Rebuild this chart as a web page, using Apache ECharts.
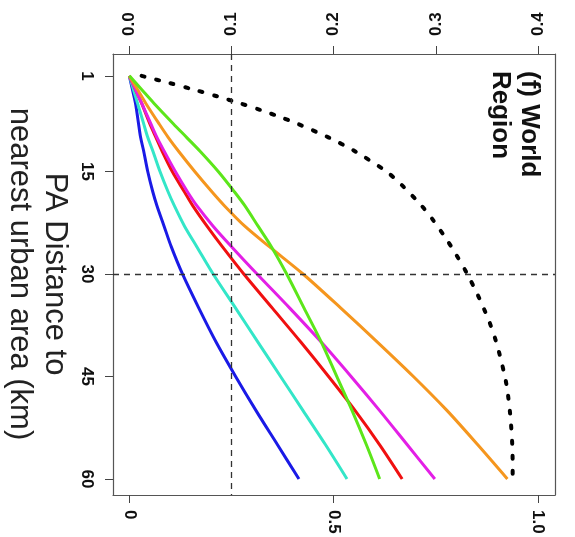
<!DOCTYPE html>
<html>
<head>
<meta charset="utf-8">
<script src="https://cdn.jsdelivr.net/npm/echarts@6/dist/echarts.min.js"></script>
<style>
  html, body { margin: 0; padding: 0; background: #fff; }
  #main { width: 575px; height: 537px; }
</style>
</head>
<body>
<div id="main"></div>
<script>
// distance to nearest urban area (km)
var distances = [1, 3, 5, 8, 10, 12, 15, 18, 20, 23, 26, 30, 35, 40, 45, 50, 55, 60];

// coloured curves (top axis, 0 - 0.4)
var blueVals    = [0, 0.003, 0.006, 0.009, 0.011, 0.014, 0.018, 0.023, 0.027, 0.034, 0.041, 0.052, 0.068, 0.085, 0.104, 0.124, 0.145, 0.166];
var cyanVals    = [0, 0.004, 0.008, 0.014, 0.018, 0.023, 0.030, 0.038, 0.044, 0.054, 0.066, 0.082, 0.104, 0.126, 0.148, 0.170, 0.192, 0.213];
var greenVals   = [0, 0.012, 0.024, 0.043, 0.056, 0.069, 0.087, 0.103, 0.113, 0.126, 0.139, 0.154, 0.171, 0.188, 0.203, 0.218, 0.232, 0.245];
var redVals     = [0, 0.006, 0.012, 0.020, 0.026, 0.032, 0.042, 0.054, 0.062, 0.076, 0.091, 0.112, 0.140, 0.168, 0.195, 0.221, 0.245, 0.267];
var magentaVals = [0, 0.006, 0.012, 0.021, 0.027, 0.034, 0.045, 0.057, 0.066, 0.082, 0.100, 0.125, 0.157, 0.188, 0.217, 0.245, 0.272, 0.299];
var orangeVals  = [0, 0.008, 0.016, 0.029, 0.038, 0.048, 0.064, 0.081, 0.093, 0.113, 0.137, 0.170, 0.207, 0.243, 0.278, 0.311, 0.341, 0.370];

// dotted black curve (bottom axis, 0 - 1.0)
var cumDistances = [1, 2, 3, 4, 5, 6, 7, 8, 10, 12, 15, 17, 20, 22, 25, 27, 30, 33, 35, 37, 40, 42, 45, 47, 50, 52, 55, 58, 60];
var cumVals      = [0.03, 0.095, 0.157, 0.215, 0.27, 0.321, 0.368, 0.411, 0.487, 0.551, 0.629, 0.667, 0.715, 0.742, 0.777, 0.798, 0.827, 0.852, 0.867, 0.881, 0.898, 0.907, 0.919, 0.925, 0.931, 0.934, 0.937, 0.938, 0.938];

var topTicks = [0, 0.1, 0.2, 0.3, 0.4];
var bottomTicks = [0, 0.5, 1.0];
var distTicks = [1, 15, 30, 45, 60];

function pairs(vals, ds) {
    return vals.map(function (v, i) { return [v, ds[i]]; });
}

var tickFont = { fontFamily: 'Liberation Sans, Arial', fontWeight: 'bold', fontSize: 17, color: '#111' };
var frameLine = { show: true, onZero: false, lineStyle: { color: '#555', width: 1.2 } };

function curve(name, color, vals) {
    return {
        name: name,
        type: 'line',
        xAxisIndex: 0,
        yAxisIndex: 0,
        showSymbol: false,
        smooth: 0.3,
        lineStyle: { color: color, width: 3 },
        data: pairs(vals, distances)
    };
}

var myChart = echarts.init(document.getElementById('main'));
var option = {
    animation: false,
    backgroundColor: '#fff',
    grid: { left: 113, top: 54, right: 20, bottom: 42 },
    xAxis: [
        {
            type: 'value',
            position: 'top',
            min: -0.016,
            max: 0.4166,
            splitLine: { show: false },
            axisLine: frameLine,
            axisTick: { show: true, length: 8, customValues: topTicks, lineStyle: { color: '#444' } },
            axisLabel: Object.assign({
                customValues: topTicks,
                rotate: -90,
                margin: 18,
                formatter: function (v) { return v.toFixed(1); }
            }, tickFont)
        },
        {
            type: 'value',
            position: 'bottom',
            min: -0.04,
            max: 1.0416,
            splitLine: { show: false },
            axisLine: frameLine,
            axisTick: { show: true, length: 8, customValues: bottomTicks, lineStyle: { color: '#444' } },
            axisLabel: Object.assign({
                customValues: bottomTicks,
                rotate: -90,
                margin: 15,
                formatter: function (v) { return v === 0 ? '0' : v.toFixed(1); }
            }, tickFont)
        }
    ],
    yAxis: [
        {
            type: 'value',
            inverse: true,
            position: 'left',
            min: -2.2,
            max: 62.35,
            splitLine: { show: false },
            axisLine: frameLine,
            axisTick: { show: true, length: 8, customValues: distTicks, lineStyle: { color: '#444' } },
            axisLabel: Object.assign({
                customValues: distTicks,
                rotate: -90,
                margin: 18
            }, tickFont)
        },
        {
            type: 'value',
            inverse: true,
            position: 'right',
            min: -2.2,
            max: 62.35,
            splitLine: { show: false },
            axisLine: frameLine,
            axisTick: { show: false },
            axisLabel: { show: false }
        }
    ],
    graphic: [
        {
            type: 'text',
            x: 37, y: 274,
            rotation: -Math.PI / 2,
            style: {
                text: 'PA Distance to\nnearest urban area (km)',
                fontFamily: 'Liberation Sans, Arial',
                fontSize: 31,
                lineHeight: 35,
                fill: '#222',
                align: 'center',
                verticalAlign: 'middle'
            }
        },
        {
            type: 'text',
            x: 544, y: 71,
            rotation: -Math.PI / 2,
            style: {
                text: '(f) World\nRegion',
                fontFamily: 'Liberation Sans, Arial',
                fontWeight: 'bold',
                fontSize: 26,
                lineHeight: 29,
                fill: '#111',
                align: 'left',
                verticalAlign: 'top'
            }
        }
    ],
    series: [
        {
            name: 'cumulative',
            type: 'line',
            xAxisIndex: 1,
            yAxisIndex: 0,
            showSymbol: false,
            smooth: 0.3,
            lineStyle: { color: '#000', width: 4, type: [3, 12], cap: 'round' },
            data: pairs(cumVals, cumDistances),
            markLine: {
                silent: true,
                symbol: 'none',
                label: { show: false },
                lineStyle: { color: '#333', width: 1.3, type: [6, 5] },
                data: [{ yAxis: 30 }]
            }
        },
        curve('blue', '#1a1ae6', blueVals),
        curve('cyan', '#33e6c8', cyanVals),
        curve('red', '#f01010', redVals),
        curve('magenta', '#e31fe6', magentaVals),
        curve('orange', '#f5961e', orangeVals),
        curve('green', '#5ce61a', greenVals),
        {
            name: 'ref',
            type: 'line',
            xAxisIndex: 0,
            yAxisIndex: 0,
            data: [],
            markLine: {
                silent: true,
                symbol: 'none',
                label: { show: false },
                lineStyle: { color: '#333', width: 1.3, type: [6, 5] },
                data: [{ xAxis: 0.1 }]
            }
        }
    ]
};
myChart.setOption(option);
</script>
</body>
</html>
